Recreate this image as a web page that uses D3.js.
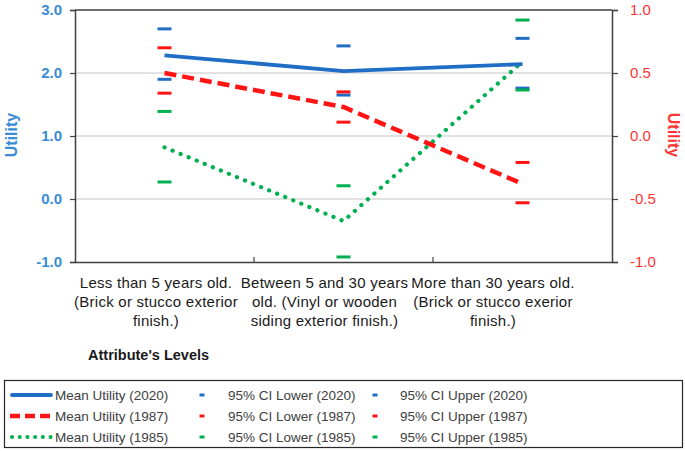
<!DOCTYPE html>
<html><head><meta charset="utf-8">
<script src="https://cdn.jsdelivr.net/npm/d3@7"></script>
<style>
html,body{margin:0;padding:0;background:#fff;}
svg{display:block;font-family:"Liberation Sans",Arial,sans-serif;}
</style></head>
<body><svg id="c" width="685" height="451"></svg>
<script>
// ---- data ----
const categories = ["lt5", "5to30", "gt30"];
const categoryLabels = [
  ["Less than 5 years old.", "(Brick or stucco exterior", "finish.)"],
  ["Between 5 and 30 years", "old. (Vinyl or wooden", "siding exterior finish.)"],
  ["More than 30 years old.", "(Brick or stucco exerior", "finish.)"]
];
const leftTicks = [-1, 0, 1, 2, 3];
const rightTicks = [-1, -0.5, 0, 0.5, 1];
// 2020 (left axis)
const mean2020 = [2.28, 2.03, 2.14];
const lower2020 = [1.90, 1.65, 1.76];
const upper2020 = [2.70, 2.43, 2.55];
// 1987 (right axis)
const mean1987 = [0.50, 0.23, -0.38];
const lower1987 = [0.34, 0.11, -0.53];
const upper1987 = [0.70, 0.35, -0.21];
// 1985 (left axis)
const mean1985 = [0.82, -0.35, 2.18];
const lower1985 = [0.27, -0.92, 1.73];
const upper1985 = [1.39, 0.21, 2.84];

const BLUE = "#1f6dc5", RED = "#ff1414", GREEN = "#00b050";

const svg = d3.select("#c");
const L = 75, R = 612, T = 10, B = 262;
const x = d3.scaleBand().domain(categories).range([L, R]);
const cx = c => x(c) + x.bandwidth() / 2;
// wrapped category labels are laid out slightly left of the band centres
const xLab = d3.scalePoint().domain(categories).range([156, 493]);
const yL = d3.scaleLinear().domain([-1, 3]).range([B, T]);
const yR = d3.scaleLinear().domain([-1, 1]).range([B, T]);

// gridlines
svg.append("g").selectAll("line").data([0, 1, 2]).join("line")
  .attr("x1", L).attr("x2", R).attr("y1", d => yL(d)).attr("y2", d => yL(d))
  .attr("stroke", "#d9d9d9").attr("stroke-width", 1.5);

// top border
svg.append("line").attr("x1", L).attr("x2", R).attr("y1", T).attr("y2", T)
  .attr("stroke", "#404040").attr("stroke-width", 1.5);

// axes
const gl = svg.append("g").attr("transform", `translate(${L},0)`)
  .call(d3.axisLeft(yL).tickValues(leftTicks).tickFormat(d => d.toFixed(1)).tickSize(5).tickPadding(8));
gl.selectAll("text").attr("fill", "#3a8bd6").attr("font-size", 15).attr("font-weight", "bold");
const gr = svg.append("g").attr("transform", `translate(${R},0)`)
  .call(d3.axisRight(yR).tickValues(rightTicks).tickFormat(d => d.toFixed(1)).tickSize(6).tickPadding(12));
gr.selectAll("text").attr("fill", "#ff3333").attr("font-size", 15);
const gb = svg.append("g").attr("transform", `translate(0,${B})`)
  .call(d3.axisBottom(x).tickValues([]).tickSizeOuter(0));
[gl, gr, gb].forEach(g => {
  g.select(".domain").attr("stroke", "#404040").attr("stroke-width", 1.5);
  g.selectAll(".tick line").attr("stroke", "#404040").attr("stroke-width", 1.2);
});
// inner x ticks at category boundaries
svg.append("g").selectAll("line").data(categories.slice(1)).join("line")
  .attr("x1", d => x(d)).attr("x2", d => x(d)).attr("y1", B).attr("y2", B - 5)
  .attr("stroke", "#404040").attr("stroke-width", 1.2);

// x labels
const xl = svg.append("g").attr("font-size", 15).attr("letter-spacing", 0.25)
  .attr("fill", "#1a1a1a").attr("text-anchor", "middle");
categories.forEach((c, i) => {
  const t = xl.append("text").attr("x", xLab(c)).attr("y", 288);
  categoryLabels[i].forEach((s, j) => t.append("tspan").attr("x", xLab(c)).attr("dy", j ? 19 : 0).text(s));
});
svg.append("text").attr("x", 88).attr("y", 360).attr("font-size", 14.5).attr("font-weight", "bold")
  .attr("fill", "#1a1a1a").text("Attribute's Levels");

// axis titles
svg.append("text").attr("transform", "translate(17,135) rotate(-90)").attr("text-anchor", "middle")
  .attr("font-size", 16).attr("font-weight", "bold").attr("fill", "#3a8bd6").text("Utility");
svg.append("text").attr("transform", "translate(668,135) rotate(90)").attr("text-anchor", "middle")
  .attr("font-size", 16).attr("font-weight", "bold").attr("fill", "#ff3333").text("Utility");

// CI markers
function ci(vals, y, color) {
  svg.append("g").selectAll("line").data(vals).join("line")
    .attr("x1", (d, i) => cx(categories[i]) - 7).attr("x2", (d, i) => cx(categories[i]) + 7)
    .attr("y1", d => y(d)).attr("y2", d => y(d))
    .attr("stroke", color).attr("stroke-width", 3);
}
ci(upper2020, yL, BLUE); ci(lower2020, yL, BLUE);
ci(upper1985, yL, GREEN); ci(lower1985, yL, GREEN);
ci(upper1987, yR, RED); ci(lower1987, yR, RED);

// lines
function series(vals, y, color, dash, width, cap) {
  const line = d3.line().x((d, i) => cx(categories[i])).y(d => y(d));
  svg.append("path").datum(vals).attr("d", line).attr("fill", "none")
    .attr("stroke", color).attr("stroke-width", width)
    .attr("stroke-dasharray", dash).attr("stroke-linecap", cap);
}
series(mean1985, yL, GREEN, "0.1 8.6", 4.2, "round");
series(mean1987, yR, RED, "12 6", 4.5, "butt");
series(mean2020, yL, BLUE, null, 3.8, "butt");

// legend
svg.append("rect").attr("x", 4.5).attr("y", 380.5).attr("width", 678).attr("height", 67)
  .attr("fill", "none").attr("stroke", "#262626").attr("stroke-width", 1.2);
const rows = [395, 416, 437];
const legItems = [
  { col: 0, row: 0, type: "line", color: BLUE, dash: null, width: 3.8, cap: "round", text: "Mean Utility (2020)" },
  { col: 0, row: 1, type: "line", color: RED, dash: "10 5", width: 4.5, cap: "butt", text: "Mean Utility (1987)" },
  { col: 0, row: 2, type: "line", color: GREEN, dash: "0.1 7.6", width: 4, cap: "round", text: "Mean Utility (1985)" },
  { col: 1, row: 0, type: "mark", color: BLUE, text: "95% CI Lower (2020)" },
  { col: 1, row: 1, type: "mark", color: RED, text: "95% CI Lower (1987)" },
  { col: 1, row: 2, type: "mark", color: GREEN, text: "95% CI Lower (1985)" },
  { col: 2, row: 0, type: "mark", color: BLUE, text: "95% CI Upper (2020)" },
  { col: 2, row: 1, type: "mark", color: RED, text: "95% CI Upper (1987)" },
  { col: 2, row: 2, type: "mark", color: GREEN, text: "95% CI Upper (1985)" }
];
const colMark = [31, 202, 375], colText = [55, 228, 400];
legItems.forEach(it => {
  const yy = rows[it.row];
  if (it.type === "line") {
    svg.append("line").attr("x1", it.cap === "round" ? 12 : 10).attr("x2", 51).attr("y1", yy).attr("y2", yy)
      .attr("stroke", it.color).attr("stroke-width", it.width).attr("stroke-dasharray", it.dash)
      .attr("stroke-linecap", it.cap);
  } else {
    svg.append("line").attr("x1", colMark[it.col] - 2.5).attr("x2", colMark[it.col] + 2.5)
      .attr("y1", yy).attr("y2", yy).attr("stroke", it.color).attr("stroke-width", 3);
  }
  svg.append("text").attr("x", colText[it.col]).attr("y", yy + 5).attr("font-size", 13.5)
    .attr("fill", "#404040").text(it.text);
});
</script></body></html>
